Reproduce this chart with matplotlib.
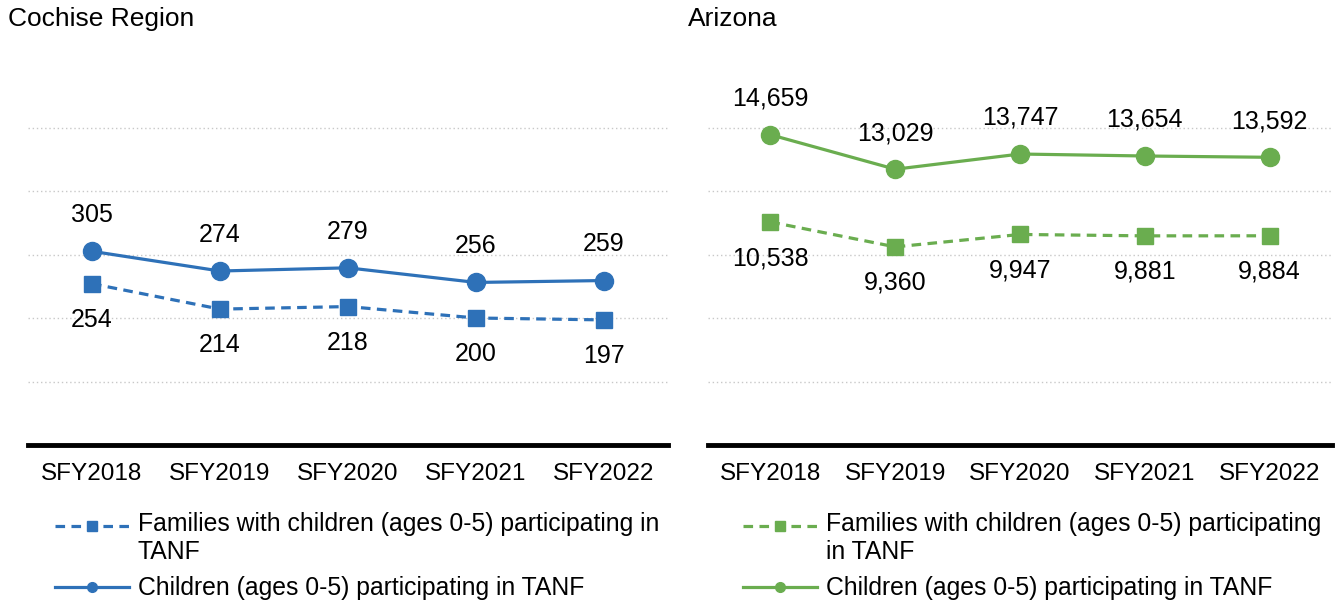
import numpy as np
import matplotlib.pyplot as plt
from matplotlib.lines import Line2D
from matplotlib.legend_handler import HandlerLine2D

plt.rcParams['font.family'] = ['Liberation Sans', 'DejaVu Sans']

years = ['SFY2018', 'SFY2019', 'SFY2020', 'SFY2021', 'SFY2022']

cochise_children = [305, 274, 279, 256, 259]
cochise_families = [254, 214, 218, 200, 197]

az_children = [14659, 13029, 13747, 13654, 13592]
az_families = [10538, 9360, 9947, 9881, 9884]

blue = '#2E71B8'
green = '#6AAD4F'

fig = plt.figure(figsize=(13.36, 6.06), dpi=100)

ax1 = fig.add_axes([28/1336, 1-445/606, 640/1336, 381/606])
ax2 = fig.add_axes([708/1336, 1-445/606, 624/1336, 381/606])


def draw(ax, kids, fams, color, step, fmt):
    x = range(len(years))
    ax.plot(x, kids, color=color, lw=2.3, marker='o', ms=13, zorder=3)
    ax.plot(x, fams, color=color, lw=2.3, ls=(0, (3, 2)), marker='s', ms=11.5, zorder=3)
    for i in x:
        ax.annotate(fmt(kids[i]), (i, kids[i]), xytext=(0, 26), textcoords='offset points',
                    ha='center', va='center', fontsize=18)
        ax.annotate(fmt(fams[i]), (i, fams[i]), xytext=(0, -26), textcoords='offset points',
                    ha='center', va='center', fontsize=18)
    ax.set_xlim(-0.5, len(years) - 0.5)
    ax.set_ylim(0, step * 6)
    ax.set_yticks([step * k for k in range(1, 6)])
    ax.set_yticklabels([])
    ax.tick_params(axis='y', length=0)
    ax.yaxis.grid(True, ls=(0, (1, 2)), color='#C8C8C8', lw=1)
    ax.set_axisbelow(True)
    ax.set_xticks(list(x))
    ax.set_xticklabels(years, fontsize=17.5)
    ax.tick_params(axis='x', length=0, pad=13)
    for s in ['top', 'left', 'right']:
        ax.spines[s].set_visible(False)
    ax.spines['bottom'].set_linewidth(3.5)
    ax.spines['bottom'].set_color('black')


draw(ax1, cochise_children, cochise_families, blue, 100, lambda v: f'{v}')
draw(ax2, az_children, az_families, green, 3000, lambda v: f'{v:,}')

fig.text(8/1336, 1-19/606, 'Cochise Region', fontsize=19, va='center', ha='left')
fig.text(688/1336, 1-19/606, 'Arizona', fontsize=19, va='center', ha='left')


# legend handle of the two-line entry sits on its first line
class FirstLine(HandlerLine2D):
    def create_artists(self, legend, orig_handle, xdescent, ydescent, width, height, fontsize, trans):
        arts = super().create_artists(legend, orig_handle, xdescent, ydescent, width, height, fontsize, trans)
        for a in arts:
            a.set_ydata(np.asarray(a.get_ydata()) + 9.5)
        return arts


def legend(color, fam_label, x0):
    fam = Line2D([], [], color=color, lw=2.3, ls=(0, (3, 2)), marker='s', ms=7)
    kid = Line2D([], [], color=color, lw=2.3, marker='o', ms=7)
    leg = fig.legend([fam, kid], [fam_label, 'Children (ages 0-5) participating in TANF'],
                     loc='upper left', bbox_to_anchor=(x0, 1-512/606), frameon=False,
                     fontsize=17.8, handlelength=3.0, handletextpad=0.35, labelspacing=0.5,
                     borderpad=0, borderaxespad=0, handler_map={fam: FirstLine()})
    for t in leg.get_texts():
        t.set_linespacing(1.2)


legend(blue, 'Families with children (ages 0-5) participating in\nTANF', 55/1336)
legend(green, 'Families with children (ages 0-5) participating\nin TANF', 743/1336)

fig.savefig('out.png', dpi=100)
